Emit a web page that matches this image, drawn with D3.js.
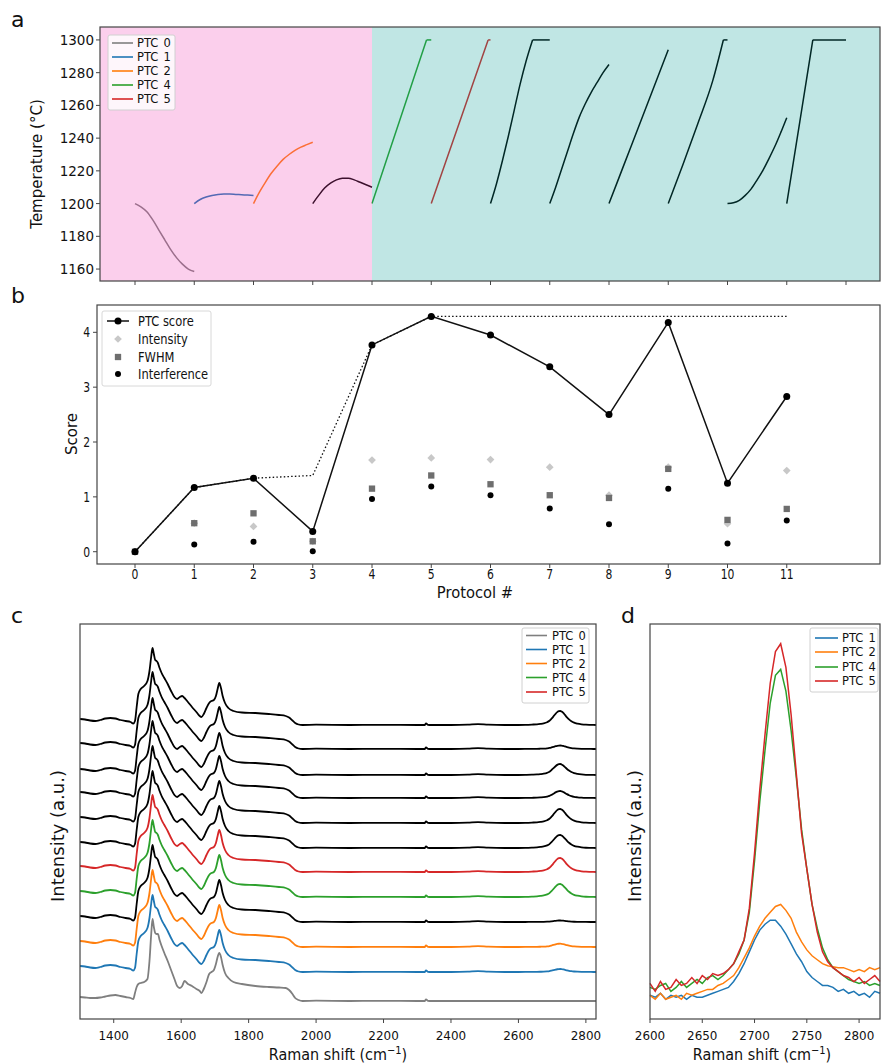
<!DOCTYPE html>
<html><head><meta charset="utf-8">
<script src="https://cdn.jsdelivr.net/npm/d3@7"></script>
<style>
body{margin:0;background:#fff}
svg{display:block;font-family:"DejaVu Sans",sans-serif}
</style>
</head><body>
<svg id="chart" width="882" height="1063"></svg>
<script>
// ---------------- Panel a: temperature protocols ----------------
const tempCurve0 = [[0,1200],[0.1,1198],[0.2,1195],[0.3,1190],[0.4,1184],[0.5,1178],[0.6,1172],[0.7,1167],[0.8,1163],[0.9,1160],[1,1158.5]];
const tempCurve1 = [[1,1200],[1.1,1202.5],[1.2,1204],[1.3,1205],[1.4,1205.6],[1.5,1205.8],[1.6,1205.8],[1.7,1205.6],[1.8,1205.4],[1.9,1205.2],[2,1205]];
const tempCurve2 = [[2,1200],[2.1,1207],[2.2,1213],[2.3,1218.5],[2.4,1223],[2.5,1227],[2.6,1230],[2.7,1232.5],[2.8,1234.5],[2.9,1236],[3,1237.5]];
const tempCurve3 = [[3,1200],[3.1,1205],[3.2,1209.5],[3.3,1212.5],[3.4,1214.5],[3.5,1215.5],[3.6,1215.5],[3.7,1214.5],[3.8,1213],[3.9,1211.5],[4,1210]];
const tempCurve4 = [[4,1200],[4.46,1250],[4.92,1300],[5,1300]];
const tempCurve5 = [[5,1200],[5.48,1250],[5.96,1300],[6,1300]];
const tempCurve6 = [[6,1200],[6.1,1212],[6.2,1226],[6.3,1241],[6.4,1257],[6.5,1273],[6.6,1287],[6.71,1300],[7,1300]];
const tempCurve7 = [[7,1200],[7.1,1210],[7.2,1221],[7.3,1232],[7.4,1243],[7.5,1253],[7.6,1261],[7.7,1268],[7.8,1274],[7.9,1280],[8,1285]];
const tempCurve8 = [[8,1200],[8.25,1223.5],[8.5,1247],[8.75,1270.5],[9,1294]];
const tempCurve9 = [[9,1200],[9.25,1224],[9.5,1249],[9.75,1275],[9.93,1300],[10,1300]];
const tempCurve10 = [[10,1200],[10.1,1200.5],[10.2,1202],[10.3,1205],[10.4,1209],[10.5,1214.5],[10.6,1220.5],[10.7,1227.5],[10.8,1235],[10.9,1243.5],[11,1252.5]];
const tempCurve11 = [[11,1200],[11.22,1250],[11.44,1300],[12,1300]];
const tempCurves = [tempCurve0,tempCurve1,tempCurve2,tempCurve3,tempCurve4,tempCurve5,tempCurve6,tempCurve7,tempCurve8,tempCurve9,tempCurve10,tempCurve11];
const tempColors = ["#7f7f7f","#1f77b4","#ff7f0e","#000000","#2ca02c","#d62728","#000000","#000000","#000000","#000000","#000000","#000000"];
const tempTicks = [1160,1180,1200,1220,1240,1260,1280,1300];
const legendLabels = ["PTC 0","PTC 1","PTC 2","PTC 4","PTC 5"];
const legendColors = ["#7f7f7f","#1f77b4","#ff7f0e","#2ca02c","#d62728"];

// ---------------- Panel b: scores ----------------
const protocols = [0,1,2,3,4,5,6,7,8,9,10,11];
const ptcScore = [0,1.17,1.34,0.37,3.77,4.29,3.95,3.37,2.50,4.18,1.25,2.83];
const bestScore = [0,1.17,1.34,1.39,3.77,4.29,4.29,4.29,4.29,4.29,4.29,4.29];
const intensityScore = [0,0.52,0.46,0.19,1.67,1.71,1.68,1.54,1.03,1.54,0.51,1.48];
const fwhmScore = [0,0.52,0.70,0.19,1.15,1.39,1.23,1.03,0.98,1.51,0.58,0.78];
const interfScore = [0,0.13,0.18,0.01,0.96,1.19,1.03,0.79,0.50,1.15,0.15,0.57];
const scoreTicks = [0,1,2,3,4];

// ---------------- Panel c: stacked Raman spectra ----------------
const shiftC = [1300,1315,1330,1345,1360,1375,1390,1405,1420,1435,1450,1458,1463,1468,1473,1480,1490,1500,1506,1511,1515,1519,1523,1527,1531,1536,1542,1550,1560,1570,1580,1588,1596,1603,1610,1620,1632,1645,1655,1660,1667,1675,1683,1690,1697,1703,1708,1713,1718,1723,1730,1740,1755,1780,1820,1860,1890,1910,1920,1930,1938,1948,1960,2000,2100,2200,2300,2322,2326,2332,2340,2400,2450,2480,2510,2560,2590];
const shapeTypical = [6,5.5,4.5,4,5,6.5,7,6.5,5,4,3,1.5,4,18,31,36,39,44,54,68,77,71,65,64,62,57,52,47,41,34,28,26,28,29,27,23,18,13,9,8,11,17,22,24,25,29,36,42,37,29,22,17,14,12.5,12,11,10,9,7.5,4.5,2,0.5,0,0.3,0,0.2,0,0,1.6,0.2,0,0,0.3,0.8,0.3,0,0];
const shapePTC0 = [4,3.5,3,3,3.5,4.5,5.5,6,5,4,3,2,8,14,17,18,19,22,40,66,82,74,68,67,67,61,55,48,40,31,22,15,13,15,20,17,15,12,10,8,12,19,27,29,31,37,44,48,44,36,28,23,19,17,15,14,13.5,13,11,7,3,1,0,0.3,0,0.2,0,0,1.6,0.2,0,0,0,0,0,0,0];
const shift2D = [2600,2620,2640,2655,2665,2675,2685,2692,2698,2704,2710,2715,2720,2724,2728,2733,2738,2744,2750,2757,2765,2775,2787,2800,2815,2830];
const profile2D = [0,0.01,0.03,0.05,0.08,0.12,0.2,0.3,0.45,0.62,0.8,0.92,0.99,1.0,0.96,0.86,0.72,0.55,0.4,0.27,0.17,0.1,0.05,0.02,0.01,0];
const height2D = [0,3,3.3,1.5,13,14,13,14,7,11,3.5,14];
const offsetC = [18,47,72,97,122,147,171,196,221,244,270,294];
const colorsC = ["#7f7f7f","#1f77b4","#ff7f0e","#000000","#2ca02c","#d62728","#000000","#000000","#000000","#000000","#000000","#000000"];
const ticksC = [1400,1600,1800,2000,2200,2400,2600,2800];

// ---------------- Panel d: 2D band zoom ----------------
const shiftD = [2600,2605,2610,2615,2620,2625,2630,2635,2640,2645,2650,2655,2660,2665,2670,2675,2680,2685,2690,2695,2700,2705,2710,2715,2720,2725,2730,2735,2740,2745,2750,2755,2760,2765,2770,2775,2780,2785,2790,2795,2800,2805,2810,2815,2820];
const ptc1D = [6,5.5,6.5,5,6,5.5,6,5,6,5.5,5.5,6,6.5,7,7.5,8,9.5,11.5,14,17,20,22.5,24,25,25,23.5,21.5,19,16.5,14.5,12,10.5,9.5,8.5,8.5,8,7,7.5,6.5,7,6,6.5,5.5,7,6.5];
const ptc2D = [6,5,6.5,5,5.5,6,5,6.5,6,6.5,7,7.5,7.5,8.5,9,10,11,13,15.5,18,21,23.5,25.5,27,28.5,29,27.5,25.5,22,19.5,17.5,16,15,14,13.5,13.2,13,13,12.5,12,12.5,12,13,12.5,13];
const ptc4D = [8,7.5,8.5,9,7,8,9.5,8,9,10,9,10.5,11,10,11,12.5,14,16.5,20,27,40,55,68,80,87,88.5,83,73,61,48,38,29,23,18,15,13,12,11,10,9.5,9,9.5,8.5,9,8.5];
const ptc5D = [9,7,9.5,7.5,8,10,8.5,9,10.5,9,11,10,11.5,11,11.5,12.5,14,17,20,28,42,58,72,85,93,95,89,77,62,47,38,29,22,17,14.5,13,12,11,10.5,9.5,10.5,9,10,11,9.5];
const seriesD = [ptc1D,ptc2D,ptc4D,ptc5D];
const labelsD = ["PTC 1","PTC 2","PTC 4","PTC 5"];
const colorsD = ["#1f77b4","#ff7f0e","#2ca02c","#d62728"];
const ticksD = [2600,2650,2700,2750,2800];

// ================= drawing =================
const svg = d3.select("#chart");
const AX = "#444";

function htext(g, x, y, s, fs, anchor, sx) {
  const gg = g.append("g").attr("transform", `translate(${x},${y}) scale(${sx||1},1)`);
  return gg.append("text").attr("text-anchor", anchor || "start").attr("font-size", fs).attr("fill", "#111").text(s);
}
function vtext(g, x, y, s, fs) {
  return g.append("text").attr("transform", `translate(${x},${y}) rotate(-90)`)
    .attr("text-anchor", "middle").attr("dy", "0.35em").attr("font-size", fs).attr("fill", "#111").text(s);
}
function frame(g, x0, y0, x1, y1) {
  g.append("rect").attr("x", x0).attr("y", y0).attr("width", x1 - x0).attr("height", y1 - y0)
    .attr("fill", "none").attr("stroke", AX).attr("stroke-width", 1.2);
}
function legend(g, x0, y0, w, h, labels, colors, ys, lx0, lx1, tx, fs) {
  g.append("rect").attr("x", x0).attr("y", y0).attr("width", w).attr("height", h).attr("rx", 2)
    .attr("fill", "rgba(255,255,255,0.8)").attr("stroke", "#d0d0d0").attr("stroke-width", 1);
  labels.forEach((l, i) => {
    g.append("line").attr("x1", lx0).attr("x2", lx1).attr("y1", ys[i]).attr("y2", ys[i])
      .attr("stroke", colors[i]).attr("stroke-width", 1.6);
    htext(g, tx, ys[i] + 4, l, fs, "start").attr("word-spacing", "1.5px");
  });
}

// panel letters
[["a", 11, 27], ["b", 11, 303], ["c", 11, 623], ["d", 621, 623]].forEach(([t, x, y]) => htext(svg, x, y, t, 22, "start"));

// ---- Panel a ----
const gA = svg.append("g");
const xP = d3.scaleLinear().domain([0, 12]).range([135, 846]);
const yA = d3.scaleLinear().domain([1152.7, 1307.9]).range([281, 27]);
const smoothA = d3.line().x(d => xP(d[0])).y(d => yA(d[1])).curve(d3.curveMonotoneX);
const straightA = d3.line().x(d => xP(d[0])).y(d => yA(d[1]));
gA.append("rect").attr("x", 100).attr("y", 27).attr("width", 780).attr("height", 254).attr("fill", "#fff");
tempCurves.forEach((c, i) => {
  // ramp part (smooth) and, if present, the hold at the set-point (straight)
  const k = c.findIndex(p => p[1] === 1300);
  const ramp = k >= 0 ? c.slice(0, k + 1) : c;
  const hold = k >= 0 ? c.slice(k) : [];
  const gg = gA.append("g").attr("fill", "none").attr("stroke", tempColors[i]).attr("stroke-width", 1.5).attr("stroke-linejoin", "miter");
  gg.append("path").attr("d", smoothA(ramp));
  if (hold.length > 1) gg.append("path").attr("d", straightA(hold));
});
// translucent spans drawn over the curves
gA.append("rect").attr("x", 100).attr("y", 27).attr("width", xP(4) - 100).attr("height", 254)
  .attr("fill", "rgb(238,64,180)").attr("fill-opacity", 0.25);
gA.append("rect").attr("x", xP(4)).attr("y", 27).attr("width", 880 - xP(4)).attr("height", 254)
  .attr("fill", "rgb(4,156,148)").attr("fill-opacity", 0.25);
frame(gA, 100, 27, 880, 281);
tempTicks.forEach(t => {
  gA.append("line").attr("x1", 96).attr("x2", 100).attr("y1", yA(t)).attr("y2", yA(t)).attr("stroke", AX);
  htext(gA, 94, yA(t) + 5, String(t), 13.5, "end");
});
d3.range(0, 13).forEach(p => {
  gA.append("line").attr("x1", xP(p)).attr("x2", xP(p)).attr("y1", 281).attr("y2", 285).attr("stroke", AX);
});
vtext(gA, 37, 164, "Temperature (°C)", 15);
legend(gA, 108, 35, 67, 75, legendLabels, legendColors, [43, 57, 71, 85, 99], 112, 133, 137, 11.5);

// ---- Panel b ----
const gB = svg.append("g");
const yB = d3.scaleLinear().domain([-0.224, 4.498]).range([564, 305]);
const lineB = d3.line().x((d, i) => xP(protocols[i])).y(d => yB(d));
const diamondPath = d3.symbol().type(d3.symbolSquare).size(30)();
const squarePath = d3.symbol().type(d3.symbolSquare).size(40)();
gB.append("path").attr("d", lineB(bestScore)).attr("fill", "none").attr("stroke", "#111")
  .attr("stroke-width", 1.3).attr("stroke-dasharray", "1.5,2.2");
intensityScore.forEach((v, i) => {
  gB.append("path").attr("d", diamondPath).attr("transform", `translate(${xP(protocols[i])},${yB(v)}) rotate(45)`).attr("fill", "#c8c8c8");
});
fwhmScore.forEach((v, i) => {
  gB.append("path").attr("d", squarePath).attr("transform", `translate(${xP(protocols[i])},${yB(v)})`).attr("fill", "#6e6e6e");
});
interfScore.forEach((v, i) => {
  gB.append("circle").attr("cx", xP(protocols[i])).attr("cy", yB(v)).attr("r", 3).attr("fill", "#000");
});
gB.append("path").attr("d", lineB(ptcScore)).attr("fill", "none").attr("stroke", "#111").attr("stroke-width", 1.5);
ptcScore.forEach((v, i) => {
  gB.append("circle").attr("cx", xP(protocols[i])).attr("cy", yB(v)).attr("r", 3.5).attr("fill", "#000");
});
frame(gB, 97, 305, 880, 564);
scoreTicks.forEach(t => {
  gB.append("line").attr("x1", 93).attr("x2", 97).attr("y1", yB(t)).attr("y2", yB(t)).attr("stroke", AX);
  htext(gB, 90, yB(t) + 5, String(t), 13.5, "end", 0.8);
});
protocols.forEach(p => {
  gB.append("line").attr("x1", xP(p)).attr("x2", xP(p)).attr("y1", 564).attr("y2", 568).attr("stroke", AX);
  htext(gB, xP(p), 578.5, String(p), 13.5, "middle", 0.8);
});
htext(gB, 475, 598, "Protocol #", 16, "middle", 0.92);
vtext(gB, 72, 434, "Score", 15);
// legend b
gB.append("rect").attr("x", 102).attr("y", 311).attr("width", 109).attr("height", 75).attr("rx", 2)
  .attr("fill", "rgba(255,255,255,0.8)").attr("stroke", "#d8d8d8");
const lyB = [321, 339, 357, 374];
gB.append("line").attr("x1", 107).attr("x2", 129).attr("y1", lyB[0]).attr("y2", lyB[0]).attr("stroke", "#111").attr("stroke-width", 1.5);
gB.append("circle").attr("cx", 118).attr("cy", lyB[0]).attr("r", 3.5).attr("fill", "#000");
gB.append("path").attr("d", diamondPath).attr("transform", `translate(118,${lyB[1]}) rotate(45)`).attr("fill", "#c8c8c8");
gB.append("path").attr("d", squarePath).attr("transform", `translate(118,${lyB[2]})`).attr("fill", "#6e6e6e");
gB.append("circle").attr("cx", 118).attr("cy", lyB[3]).attr("r", 3).attr("fill", "#000");
["PTC score", "Intensity", "FWHM", "Interference"].forEach((l, i) => htext(gB, 138, lyB[i] + 5, l, 13.5, "start", 0.85));

// ---- Panel c ----
const gC = svg.append("g");
const xC = d3.scaleLinear().domain([1300, 2830]).range([80, 596]);
const yC = d3.scaleLinear().domain([0, 395]).range([1019, 624]);
const lineC = d3.line().x(d => xC(d[0])).y(d => yC(d[1])).curve(d3.curveMonotoneX);
gC.append("defs").append("clipPath").attr("id", "clipC").append("rect").attr("x", 80).attr("y", 624).attr("width", 516).attr("height", 395);
const plotC = gC.append("g").attr("clip-path", "url(#clipC)");
offsetC.forEach((off, i) => {
  const shape = i === 0 ? shapePTC0 : shapeTypical;
  const pts = shiftC.map((x, j) => [x, off + shape[j]])
    .concat(shift2D.map((x, j) => [x, off + height2D[i] * profile2D[j]]));
  plotC.append("path").attr("d", lineC(pts)).attr("fill", "none").attr("stroke", colorsC[i]).attr("stroke-width", 1.8);
});
frame(gC, 80, 624, 596, 1019);
ticksC.forEach(t => {
  gC.append("line").attr("x1", xC(t)).attr("x2", xC(t)).attr("y1", 1019).attr("y2", 1023).attr("stroke", AX);
  htext(gC, xC(t), 1039.5, String(t), 13, "middle", 0.92);
});
vtext(gC, 58, 836, "Intensity (a.u.)", 18);
function ramanLabel(g, cx) {
  const gg = g.append("g").attr("transform", `translate(${cx},1060) scale(0.9,1)`);
  const t = gg.append("text").attr("text-anchor", "middle").attr("font-size", 16).attr("fill", "#111");
  t.append("tspan").text("Raman shift (cm");
  t.append("tspan").attr("font-size", 11).attr("dy", -6).text("−1");
  t.append("tspan").attr("dy", 6).text(")");
}
ramanLabel(gC, 338);
legend(gC, 522, 628, 67, 75, legendLabels, legendColors, [635.5, 649.5, 663.5, 677.5, 692], 526, 547, 552, 11.5);

// ---- Panel d ----
const gD = svg.append("g");
const xD = d3.scaleLinear().domain([2600, 2820]).range([650, 880]);
const yD = d3.scaleLinear().domain([0, 100]).range([1019, 624]);
const lineD = d3.line().x((d, i) => xD(shiftD[i])).y(d => yD(d));
seriesD.forEach((s, i) => {
  gD.append("path").attr("d", lineD(s)).attr("fill", "none").attr("stroke", colorsD[i]).attr("stroke-width", 1.5);
});
frame(gD, 650, 624, 880, 1019);
ticksD.forEach(t => {
  gD.append("line").attr("x1", xD(t)).attr("x2", xD(t)).attr("y1", 1019).attr("y2", 1023).attr("stroke", AX);
  htext(gD, xD(t), 1039.5, String(t), 13, "middle", 0.92);
});
vtext(gD, 635, 836, "Intensity (a.u.)", 18);
ramanLabel(gD, 762);
legend(gD, 810, 628, 68, 64, labelsD, colorsD, [638, 652, 667, 681], 815, 838, 842, 11.5);
</script>
</body></html>
